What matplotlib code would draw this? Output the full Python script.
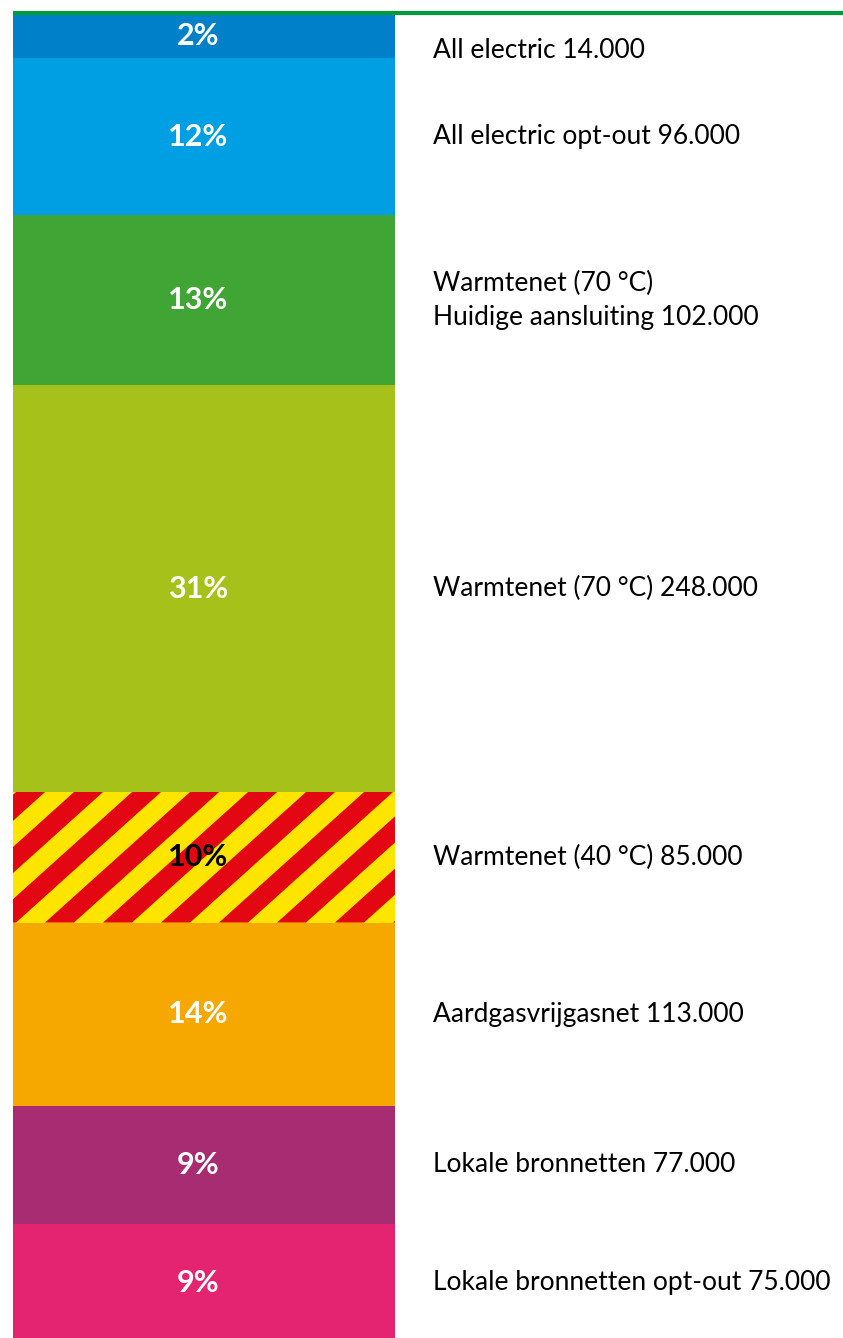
import numpy as np
import matplotlib
matplotlib.use('Agg')
import matplotlib.pyplot as plt
from matplotlib.patches import Polygon

plt.rcParams['font.family'] = ['Lato', 'DejaVu Sans']

# data, top to bottom
labels = ['All electric 14.000',
          'All electric opt-out 96.000',
          'Warmtenet (70 °C)\nHuidige aansluiting 102.000',
          'Warmtenet (70 °C) 248.000',
          'Warmtenet (40 °C) 85.000',
          'Aardgasvrijgasnet 113.000',
          'Lokale bronnetten 77.000',
          'Lokale bronnetten opt-out 75.000']
aantal = [14000, 96000, 102000, 248000, 85000, 113000, 77000, 75000]
pct = [2, 12, 13, 31, 10, 14, 9, 9]
colors = ['#0080c9', '#009fe3', '#40a535', '#a6c11a', 'stripes', '#f7a800', '#a82c72', '#e42371']

W, H = 843, 1338
fig = plt.figure(figsize=(W / 100, H / 100), dpi=100)
ax = fig.add_axes([0, 0, 1, 1])

ppu = 13.1                     # pixels per percent
top = 15 / ppu
ax.set_xlim(0, W)
ax.set_ylim(H / ppu - top, -top)
ax.axis('off')

# small segments get a minimum height so the label fits
heights = [max(p, 3.28) for p in pct]
bottoms = np.concatenate([[0], np.cumsum(heights)[:-1]])

x0, x1 = 13, 395
for i, (lab, p, h, b, c) in enumerate(zip(labels, pct, heights, bottoms, colors)):
    if c == 'stripes':
        bar = ax.bar((x0 + x1) / 2, h, width=x1 - x0, bottom=b, color='#fde500', linewidth=0)[0]
        per = 58                        # horizontal stripe period in px
        slope = 0.9                     # rise per px
        for s in np.arange(x0 - 200, x1 + 200, per):
            xs = np.array([s, s + per / 2, s + per / 2 + 300, s + 300])
            ys = b + h - np.array([0, 0, 300 * slope, 300 * slope]) / ppu
            poly = Polygon(np.column_stack([xs, ys]), closed=True, color='#e30613', lw=0)
            ax.add_patch(poly)
            poly.set_clip_path(bar)
        tc = 'black'
    else:
        ax.bar((x0 + x1) / 2, h, width=x1 - x0, bottom=b, color=c, linewidth=0)
        tc = 'white'
    ax.text(198, b + h / 2, f'{p}%', color=tc, fontsize=22, fontweight='bold',
            ha='center', va='center')
    # first label sits a bit lower, next to the green line
    dy = 1.1 if i == 0 else 0
    ax.text(433, b + h / 2 + dy, lab, color='black', fontsize=19,
            ha='left', va='center', linespacing=1.45)

# green line on top
ax.plot([x0, W], [-2 / ppu, -2 / ppu], color='#009a3e', lw=3, solid_capstyle='butt')

fig.savefig('out.png', dpi=100)
